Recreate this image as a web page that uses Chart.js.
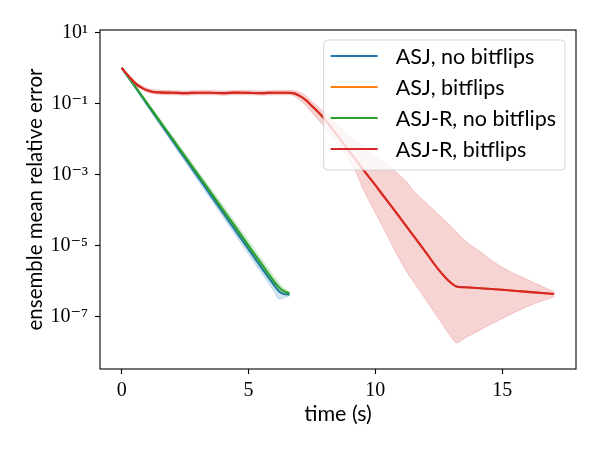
<!DOCTYPE html>
<html>
<head>
<meta charset="utf-8">
<script src="https://cdn.jsdelivr.net/npm/chart.js@4.4.1/dist/chart.umd.min.js"></script>
<style>
  html, body { margin: 0; padding: 0; background: #fff; }
  #c { display: block; }
</style>
</head>
<body>
<canvas id="c" width="600" height="450"></canvas>
<script>
// ---------------- data ----------------
const seriesLabels = ['ASJ, no bitflips', 'ASJ, bitflips', 'ASJ-R, no bitflips', 'ASJ-R, bitflips'];

// ASJ-R / ASJ with bitflips (time in s)
const timeFlip = [0, 0.2, 0.4, 0.6, 0.8, 1.0, 1.2, 1.5, 2.0, 2.5, 3.0, 3.5, 4.0, 4.5, 5.0, 5.5, 6.0, 6.5, 6.75, 7.0,
  7.25, 7.5, 8.0, 8.5, 9.0, 9.25, 9.5, 10.0, 10.5, 11.0, 11.25, 11.5, 12.0, 12.5, 13.0, 13.2, 13.5, 14.0, 15.0, 16.0, 17.05];
const asjrFlipMean = [1.0, 0.676, 0.468, 0.339, 0.275, 0.234, 0.214, 0.204, 0.200, 0.195, 0.200, 0.199, 0.195, 0.201,
  0.198, 0.195, 0.200, 0.199, 0.195, 0.166, 0.126, 0.0851, 0.0363, 0.0126, 0.00427, 0.00251, 0.00145, 5.01e-4, 1.70e-4,
  5.75e-5, 3.31e-5, 1.91e-5, 6.31e-6, 2.09e-6, 8.71e-7, 7.08e-7, 6.76e-7, 6.46e-7, 5.75e-7, 5.01e-7, 4.37e-7];
const asjrFlipUpper = [1.023, 0.724, 0.513, 0.380, 0.309, 0.269, 0.245, 0.234, 0.229, 0.224, 0.229, 0.229, 0.224, 0.229,
  0.229, 0.224, 0.229, 0.229, 0.229, 0.209, 0.166, 0.112, 0.0562, 0.0251, 0.0120, 0.00891, 0.00617, 0.00331, 0.00182,
  8.91e-4, 6.03e-4, 3.55e-4, 1.62e-4, 7.41e-5, 3.39e-5, 2.40e-5, 1.45e-5, 7.94e-6, 2.45e-6, 1.10e-6, 5.01e-7];
const asjrFlipLower = [0.977, 0.646, 0.437, 0.309, 0.251, 0.209, 0.191, 0.182, 0.174, 0.170, 0.174, 0.174, 0.170, 0.174,
  0.174, 0.170, 0.174, 0.174, 0.166, 0.129, 0.0891, 0.0550, 0.0219, 0.00724, 0.00240, 0.00112, 4.17e-4, 8.51e-5, 1.74e-5,
  3.55e-6, 1.78e-6, 9.77e-7, 2.95e-7, 8.71e-8, 2.63e-8, 1.82e-8, 2.45e-8, 3.80e-8, 8.91e-8, 1.95e-7, 3.63e-7];
const asjFlipMean = asjrFlipMean; // hidden beneath ASJ-R, bitflips

// no bitflips (time in s)
const timeNoFlip = [0, 0.5, 1.0, 1.5, 2.0, 2.5, 3.0, 3.5, 4.0, 4.5, 5.0, 5.5, 6.0, 6.2, 6.35, 6.5, 6.62];
const asjMean = [1.0, 0.316, 0.0955, 0.0295, 0.00912, 0.00282, 8.71e-4, 2.69e-4, 8.32e-5, 2.57e-5, 7.94e-6, 2.45e-6,
  7.94e-7, 5.25e-7, 4.47e-7, 4.27e-7, 4.17e-7];
const asjUpper = [1.0, 0.339, 0.105, 0.0324, 0.0100, 0.00309, 9.55e-4, 3.02e-4, 9.33e-5, 2.88e-5, 8.91e-6, 2.75e-6,
  8.91e-7, 6.03e-7, 5.01e-7, 4.68e-7, 4.57e-7];
const asjLower = [0.977, 0.288, 0.0851, 0.0251, 0.00759, 0.00229, 6.92e-4, 2.09e-4, 6.31e-5, 1.91e-5, 5.75e-6, 1.74e-6,
  5.37e-7, 3.16e-7, 3.24e-7, 3.63e-7, 3.89e-7];
const asjrMean = [1.0, 0.324, 0.102, 0.0324, 0.0102, 0.00324, 0.00102, 3.24e-4, 1.02e-4, 3.24e-5, 1.00e-5, 3.16e-6,
  1.00e-6, 6.76e-7, 5.50e-7, 4.90e-7, 4.57e-7];
const asjrUpper = [1.0, 0.355, 0.115, 0.0372, 0.0120, 0.00389, 0.00126, 4.07e-4, 1.32e-4, 4.27e-5, 1.35e-5, 4.27e-6,
  1.38e-6, 8.91e-7, 6.76e-7, 5.62e-7, 5.01e-7];
const asjrLower = [0.977, 0.302, 0.0933, 0.0288, 0.00891, 0.00275, 8.51e-4, 2.63e-4, 8.13e-5, 2.51e-5, 7.76e-6, 2.40e-6,
  7.59e-7, 5.25e-7, 4.37e-7, 4.17e-7, 4.17e-7];

const xTicks = [0, 5, 10, 15];
const yTicks = [1e-7, 1e-5, 1e-3, 1e-1, 10];
const yTickLabels = ['10⁻⁷', '10⁻⁵', '10⁻³', '10⁻¹', '10¹'];

// ---------------- styling ----------------
const C = { blue: '#1f77b4', orange: '#ff7f0e', green: '#2ca02c', red: '#d62728' };
const band = {
  blue: 'rgba(31,119,180,0.2)', green: 'rgba(44,160,44,0.2)', red: 'rgba(214,39,40,0.2)'
};
const SANS = 'Lato, "DejaVu Sans", sans-serif';
const SERIF = '"Liberation Serif", "DejaVu Serif", serif';

const pts = (xs, ys) => xs.map((x, i) => ({ x: x, y: ys[i] }));
const lineDs = (label, xs, ys, color) => ({
  label, data: pts(xs, ys), borderColor: color, backgroundColor: color, borderWidth: 2.1,
  pointRadius: 0, fill: false, cubicInterpolationMode: 'monotone'
});
const bandDs = (label, xs, ys, color, fill) => ({
  label, data: pts(xs, ys), borderColor: color, backgroundColor: color, borderWidth: 1,
  pointRadius: 0, fill: fill, cubicInterpolationMode: 'monotone'
});

const datasets = [
  lineDs(seriesLabels[3], timeFlip, asjrFlipMean, C.red),            // 0
  bandDs('band3u', timeFlip, asjrFlipUpper, band.red, '+1'),         // 1
  bandDs('band3l', timeFlip, asjrFlipLower, band.red, false),        // 2
  lineDs(seriesLabels[1], timeFlip, asjFlipMean, C.orange),          // 3
  lineDs(seriesLabels[2], timeNoFlip, asjrMean, C.green),            // 4
  bandDs('band2u', timeNoFlip, asjrUpper, band.green, '+1'),         // 5
  bandDs('band2l', timeNoFlip, asjrLower, band.green, false),        // 6
  lineDs(seriesLabels[0], timeNoFlip, asjMean, C.blue),              // 7
  bandDs('band0u', timeNoFlip, asjUpper, band.blue, '+1'),           // 8
  bandDs('band0l', timeNoFlip, asjLower, band.blue, false)           // 9
];

const legendColors = [C.blue, C.orange, C.green, C.red];

const frameAndLegend = {
  id: 'frameAndLegend',
  afterDatasetsDraw(chart) {
    const { ctx, chartArea: a } = chart;
    ctx.save();
    // axes frame
    ctx.strokeStyle = '#000';
    ctx.lineWidth = 1.1;
    ctx.strokeRect(a.left, a.top, a.right - a.left, a.bottom - a.top);

    // legend
    ctx.font = '21.5px ' + SANS;
    const maxW = Math.max(...seriesLabels.map(s => ctx.measureText(s).width));
    const boxR = a.right - 11, boxT = a.top + 10;
    const boxW = maxW + 81, boxH = 130;
    const boxL = boxR - boxW;
    const r = 4;
    ctx.beginPath();
    ctx.moveTo(boxL + r, boxT);
    ctx.lineTo(boxR - r, boxT); ctx.arcTo(boxR, boxT, boxR, boxT + r, r);
    ctx.lineTo(boxR, boxT + boxH - r); ctx.arcTo(boxR, boxT + boxH, boxR - r, boxT + boxH, r);
    ctx.lineTo(boxL + r, boxT + boxH); ctx.arcTo(boxL, boxT + boxH, boxL, boxT + boxH - r, r);
    ctx.lineTo(boxL, boxT + r); ctx.arcTo(boxL, boxT, boxL + r, boxT, r);
    ctx.closePath();
    ctx.fillStyle = 'rgba(255,255,255,0.8)';
    ctx.fill();
    ctx.strokeStyle = 'rgba(204,204,204,0.8)';
    ctx.lineWidth = 1;
    ctx.stroke();

    seriesLabels.forEach((s, i) => {
      const y = boxT + 16 + i * 31;
      ctx.strokeStyle = legendColors[i];
      ctx.lineWidth = 2.1;
      ctx.beginPath();
      ctx.moveTo(boxL + 7, y);
      ctx.lineTo(boxL + 54, y);
      ctx.stroke();
      ctx.fillStyle = '#000';
      ctx.textBaseline = 'alphabetic';
      ctx.textAlign = 'left';
      ctx.fillText(s, boxL + 72, y + 8.3);
    });
    ctx.restore();
  }
};

new Chart(document.getElementById('c'), {
  type: 'line',
  data: { datasets },
  options: {
    responsive: false,
    animation: false,
    devicePixelRatio: 1,
    layout: { padding: { left: 0, right: 24, top: 30, bottom: 0 } },
    plugins: {
      legend: { display: false },
      tooltip: { enabled: false },
      filler: { propagate: false }
    },
    scales: {
      x: {
        type: 'linear',
        min: -0.853,
        max: 17.91,
        afterBuildTicks: s => { s.ticks = xTicks.map(v => ({ value: v })); },
        afterFit: s => { s.height = 81; },
        grid: { drawOnChartArea: false, drawTicks: true, tickLength: 5, tickWidth: 1.1, tickColor: '#000', color: '#000' },
        border: { display: false },
        ticks: {
          font: { family: SERIF, size: 20 }, color: '#000', padding: 5,
          maxRotation: 0, autoSkip: false, callback: v => String(v)
        },
        title: {
          display: true, text: 'time (s)', color: '#000',
          font: { family: SANS, size: 21.5 }, padding: { top: 0, bottom: 23 }
        }
      },
      y: {
        type: 'logarithmic',
        min: 3.39e-9,
        max: 11.61,
        afterBuildTicks: s => { s.ticks = yTicks.map(v => ({ value: v })); },
        afterFit: s => { s.width = 100; },
        grid: { drawOnChartArea: false, drawTicks: true, tickLength: 5, tickWidth: 1.1, tickColor: '#000', color: '#000' },
        border: { display: false },
        ticks: {
          font: { family: SERIF, size: 20 }, color: '#000', padding: 7,
          autoSkip: false, callback: (v, i) => yTickLabels[i]
        },
        title: {
          display: true, text: 'ensemble mean relative error', color: '#000',
          font: { family: SANS, size: 20.5 }, padding: { top: 23, bottom: 0 }
        }
      }
    }
  },
  plugins: [frameAndLegend]
});
</script>
</body>
</html>
